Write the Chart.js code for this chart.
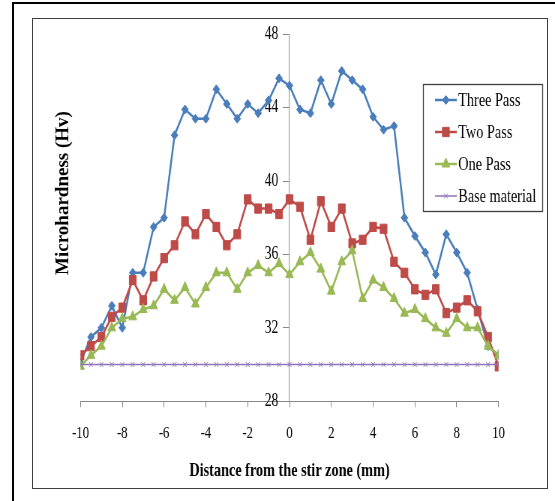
<!DOCTYPE html>
<html>
<head>
<meta charset="utf-8">
<script src="https://cdn.jsdelivr.net/npm/chart.js@4.4.1/dist/chart.umd.min.js"></script>
<style>
  html, body { margin: 0; padding: 0; background: #fff; overflow: hidden; }
  .edge-left { position: absolute; left: 12px; top: 2px; width: 2px; height: 499px; background: #000; }
  .edge-top { position: absolute; left: 12px; top: 2px; width: 543px; height: 2px; background: #000; }
  .plot-box { position: absolute; left: 32px; top: 18px; width: 514px; height: 469px; border: 1px solid #404040; }
  /* the source picture is squeezed sideways, so the chart is laid out wider and scaled back */
  #wrap { position: absolute; left: 0; top: 0; width: 740px; height: 501px; transform: scaleX(0.75); transform-origin: 0 0; }
</style>
</head>
<body>
<div class="edge-left"></div>
<div class="edge-top"></div>
<div class="plot-box"></div>
<div id="wrap"><canvas id="hardnessChart" width="740" height="501"></canvas></div>
<script>
const distance = [-10, -9.5, -9, -8.5, -8, -7.5, -7, -6.5, -6, -5.5, -5, -4.5, -4, -3.5, -3, -2.5, -2, -1.5, -1, -0.5,
    0, 0.5, 1, 1.5, 2, 2.5, 3, 3.5, 4, 4.5, 5, 5.5, 6, 6.5, 7, 7.5, 8, 8.5, 9, 9.5, 10];
const threePass = [30.1, 31.5, 32.0, 33.2, 32.0, 35.0, 35.0, 37.5, 38.0, 42.5, 43.9, 43.4, 43.4, 45.0, 44.2, 43.4, 44.2, 43.7, 44.4, 45.6,
    45.2, 43.9, 43.7, 45.5, 44.2, 46.0, 45.5, 45.0, 43.5, 42.8, 43.0, 38.0, 37.0, 36.1, 34.9, 37.1, 36.1, 35.0, 33.0, 31.0, 30.5];
const twoPass = [30.5, 31.0, 31.5, 32.6, 33.1, 34.6, 33.5, 34.8, 35.8, 36.5, 37.8, 37.1, 38.2, 37.5, 36.5, 37.1, 39.0, 38.5, 38.5, 38.2,
    39.0, 38.6, 36.8, 38.9, 37.5, 38.5, 36.6, 36.8, 37.5, 37.4, 35.6, 35.0, 34.1, 33.8, 34.1, 32.8, 33.1, 33.5, 32.9, 31.5, 29.9];
const onePass = [29.9, 30.5, 31.0, 32.0, 32.5, 32.6, 33.0, 33.2, 34.1, 33.5, 34.2, 33.3, 34.2, 35.0, 35.0, 34.1, 35.0, 35.4, 35.0, 35.5,
    34.9, 35.6, 36.1, 35.2, 34.0, 35.6, 36.2, 33.6, 34.6, 34.2, 33.6, 32.8, 33.0, 32.5, 32.0, 31.7, 32.5, 32.0, 32.0, 31.0, 30.5];
const baseMaterial = [30, 30, 30, 30, 30, 30, 30, 30, 30, 30, 30, 30, 30, 30, 30, 30, 30, 30, 30, 30,
    30, 30, 30, 30, 30, 30, 30, 30, 30, 30, 30, 30, 30, 30, 30, 30, 30, 30, 30, 30, 30];
const seriesNames = ['Three Pass', 'Two Pass', 'One Pass', 'Base material'];
const xTickValues = [-10, -8, -6, -4, -2, 0, 2, 4, 6, 8, 10];
const yTickValues = [28, 32, 36, 40, 44, 48];

const serif = 'Liberation Serif';
const axisGray = '#868686';

function points(values) {
    return distance.map((d, i) => ({ x: d, y: values[i] }));
}

function series(label, values, color, style, radius, width, order) {
    return {
        label: label,
        data: points(values),
        borderColor: color,
        backgroundColor: color,
        borderWidth: width,
        pointStyle: style,
        pointRadius: radius,
        pointBackgroundColor: color,
        pointBorderColor: color,
        pointBorderWidth: 1,
        tension: 0,
        order: order
    };
}

// legend sits over the right part of the plot, so it is drawn by hand
const legendBox = {
    id: 'legendBox',
    afterDraw(chart) {
        const ctx = chart.ctx;
        ctx.save();
        ctx.strokeStyle = '#404040';
        ctx.lineWidth = 1.3;
        ctx.strokeRect(564.5, 84.5, 159, 127);
        chart.data.datasets.forEach((ds, i) => {
            const y = 100 + i * 32;
            ctx.strokeStyle = ds.borderColor;
            ctx.lineWidth = ds.borderWidth;
            ctx.beginPath();
            ctx.moveTo(580, y);
            ctx.lineTo(609, y);
            ctx.stroke();
            ctx.fillStyle = ds.pointBackgroundColor;
            ctx.strokeStyle = ds.pointBorderColor;
            ctx.lineWidth = ds.pointBorderWidth;
            Chart.helpers.drawPoint(ctx, { pointStyle: ds.pointStyle, radius: ds.pointRadius, borderWidth: ds.pointBorderWidth, rotation: 0 }, 594.5, y);
            ctx.fillStyle = '#000';
            ctx.font = '19px "' + serif + '"';
            ctx.textAlign = 'left';
            ctx.textBaseline = 'middle';
            ctx.fillText(ds.label, 611, y + 1);
        });
        ctx.restore();
    }
};

// y title lives at the far left while the y axis is in the middle
const yTitle = {
    id: 'yTitle',
    afterDraw(chart) {
        const ctx = chart.ctx;
        ctx.save();
        ctx.translate(84, 193);
        ctx.rotate(-Math.PI / 2);
        ctx.scale(1, 1 / 0.75);
        ctx.font = 'bold 19px "' + serif + '"';
        ctx.fillStyle = '#000';
        ctx.textAlign = 'center';
        ctx.textBaseline = 'middle';
        ctx.fillText('Microhardness (Hv)', 0, 0);
        ctx.restore();
    }
};

const ctx = document.getElementById('hardnessChart').getContext('2d');

new Chart(ctx, {
    type: 'line',
    data: {
        datasets: [
            series(seriesNames[0], threePass, '#4A7EBB', 'rectRot', 4.5, 2.5, 3),
            series(seriesNames[1], twoPass, '#BE4B48', 'rect', 6.5, 2.5, 2),
            series(seriesNames[2], onePass, '#98B954', 'triangle', 6, 2.5, 1),
            series(seriesNames[3], baseMaterial, '#8C74B6', 'crossRot', 3.5, 1.5, 0)
        ]
    },
    options: {
        responsive: false,
        animation: false,
        layout: { padding: { left: 107.3, right: 75.3, top: 34.3, bottom: 18.6 } },
        plugins: {
            legend: { display: false },
            tooltip: { enabled: false }
        },
        scales: {
            x: {
                type: 'linear',
                position: 'bottom',
                min: -10,
                max: 10,
                afterBuildTicks: scale => { scale.ticks = xTickValues.map(v => ({ value: v })); },
                grid: { drawOnChartArea: false, color: axisGray, tickLength: 6 },
                border: { color: axisGray },
                ticks: { color: '#000', padding: 16, font: { family: serif, size: 17 } },
                title: {
                    display: true,
                    text: 'Distance from the stir zone (mm)',
                    color: '#000',
                    font: { family: serif, size: 19, weight: 'bold' },
                    padding: { top: 0, bottom: 0 }
                }
            },
            y: {
                position: 'center',
                min: 28,
                max: 48,
                afterBuildTicks: scale => { scale.ticks = yTickValues.map(v => ({ value: v })); },
                grid: { drawOnChartArea: false, color: axisGray, tickLength: 8 },
                border: { color: axisGray },
                ticks: { color: '#000', padding: 7, font: { family: serif, size: 18 } }
            }
        }
    },
    plugins: [legendBox, yTitle]
});
</script>
</body>
</html>
